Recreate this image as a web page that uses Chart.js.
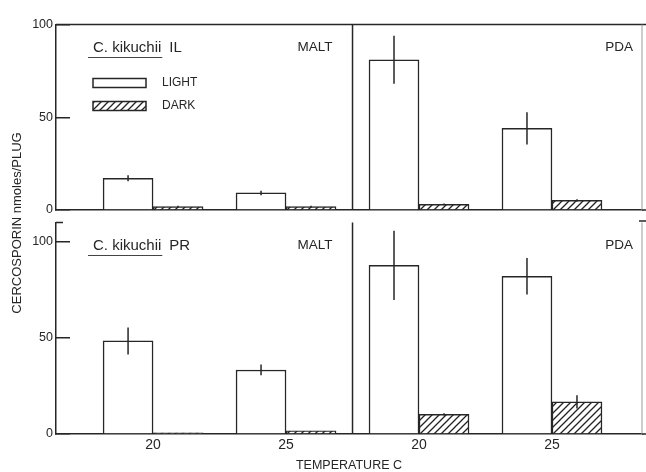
<!DOCTYPE html>
<html><head><meta charset="utf-8">
<script src="https://cdn.jsdelivr.net/npm/chart.js@4.4.0/dist/chart.umd.min.js"></script>
<style>
html,body{margin:0;padding:0;background:#fff;overflow:hidden}
#wrap{position:relative;width:646px;height:472px;background:#fff}
canvas{position:absolute;left:0;top:0}
</style></head><body>
<div id="wrap"><canvas id="topPanel" width="646" height="472"></canvas><canvas id="botPanel" width="646" height="472"></canvas></div>
<script>
// ---- data ----
const temperatures = ['20', '25', '20', '25'];
const media = ['MALT', 'PDA'];
const species = 'C. kikuchii';
const isolates = ['IL', 'PR'];
const treatments = ['LIGHT', 'DARK'];
const ilLight    = [17.1, 9.2, 81, 44];
const ilLightErr = [1.6, 1.2, 13, 8.7];
const ilDark     = [1.8, 1.8, 3.0, 5.2];
const ilDarkErr  = [0.5, 0.5, 0.5, 0.6];
const prLight    = [48.4, 33.3, 87.7, 82];
const prLightErr = [7, 2.8, 18, 9.5];
const prDark     = [0.6, 1.6, 10.2, 16.7];
const prDarkErr  = [0, 0, 0.6, 3.4];
const yTickValues = [0, 50, 100];
const yTitle = 'CERCOSPORIN nmoles/PLUG';
const xTitle = 'TEMPERATURE C';

// ---- style ----
const ink = '#262626';
const FAM = "'Liberation Sans', Arial, Helvetica, sans-serif";
Chart.defaults.font.family = FAM;
Chart.defaults.color = ink;

function hatchPattern() {
  const c = document.createElement('canvas');
  c.width = 7; c.height = 7;
  const g = c.getContext('2d');
  g.fillStyle = '#fff'; g.fillRect(0, 0, 7, 7);
  g.strokeStyle = '#222'; g.lineWidth = 1.3;
  g.beginPath();
  g.moveTo(-1, 8); g.lineTo(8, -1);
  g.moveTo(-1, 1); g.lineTo(1, -1);
  g.moveTo(6, 8); g.lineTo(8, 6);
  g.stroke();
  return g.createPattern(c, 'repeat');
}
const hatch = hatchPattern();

function line(ctx, x1, y1, x2, y2) {
  ctx.beginPath(); ctx.moveTo(x1, y1); ctx.lineTo(x2, y2); ctx.stroke();
}

function decorPlugin(cfg) {
  return {
    id: 'decor',
    afterDatasetsDraw(chart) {
      const {ctx, chartArea: a, scales: {x, y}} = chart;
      ctx.save();
      ctx.strokeStyle = ink;
      ctx.lineWidth = 1.5;
      // error bars
      chart.data.datasets.forEach((ds, di) => {
        const meta = chart.getDatasetMeta(di);
        meta.data.forEach((bar, i) => {
          const v = ds.data[i].y, e = ds.err[i];
          if (!e) return;
          line(ctx, bar.x, y.getPixelForValue(v + e), bar.x, y.getPixelForValue(Math.max(0, v - e)));
        });
      });
      // divider between media
      const dx = x.getPixelForValue((1 + 2) / 2);
      line(ctx, dx, a.top, dx, a.bottom);
      // extend baseline
      line(ctx, a.right, a.bottom, a.right + 4, a.bottom);
      if (cfg.topBorder) {
        line(ctx, a.left, a.top, a.right + 4, a.top);
      } else {
        line(ctx, a.left, a.top, a.left + 7, a.top);
        line(ctx, a.right - 3, a.top - 1.5, a.right + 4, a.top - 1.5);
      }
      ctx.strokeStyle = '#9a9a9a'; ctx.lineWidth = 1;
      line(ctx, a.right, a.top, a.right, a.bottom);

      // text
      ctx.fillStyle = ink;
      ctx.textBaseline = 'middle';
      const ty = a.top + 23;
      ctx.font = '13.5px ' + FAM;
      ctx.textAlign = 'right';
      ctx.fillText(media[0], dx - 20, ty);
      ctx.fillText(media[1], a.right - 9, ty);
      ctx.textAlign = 'left';
      ctx.font = '15px ' + FAM;
      const sx = a.left + 37;
      ctx.fillText(species, sx, ty);
      const sw = ctx.measureText(species).width;
      ctx.fillText(cfg.isolate, sx + sw + 8, ty);
      ctx.strokeStyle = '#444'; ctx.lineWidth = 1;
      line(ctx, sx - 5, a.top + 33, sx + sw + 1, a.top + 33);

      if (cfg.legend) {
        ctx.lineWidth = 1.5; ctx.strokeStyle = ink;
        chart.data.datasets.forEach((ds, di) => {
          const by = a.top + 54 + di * 23;
          ctx.fillStyle = ds.backgroundColor;
          ctx.fillRect(sx, by, 53, 9);
          ctx.strokeRect(sx, by, 53, 9);
          ctx.fillStyle = ink;
          ctx.font = '12px ' + FAM;
          ctx.fillText(ds.label, sx + 69, by + 4.5);
        });
        // y axis title spanning both panels
        ctx.save();
        ctx.translate(17, 223);
        ctx.rotate(-Math.PI / 2);
        ctx.textAlign = 'center';
        ctx.font = '13px ' + FAM;
        ctx.fillText(yTitle, 0, 0);
        ctx.restore();
      }
      ctx.restore();
    }
  };
}

function makePanel(id, light, lightErr, dark, darkErr, yMax, padTop, xAxisHeight, isolate, first) {
  return new Chart(document.getElementById(id), {
    type: 'bar',
    data: {
      datasets: [
        {label: treatments[0], data: light.map((v, i) => ({x: i, y: v})), err: lightErr,
         backgroundColor: '#ffffff', borderColor: ink, borderWidth: 1.5, barThickness: 50},
        {label: treatments[1], data: dark.map((v, i) => ({x: i, y: v})), err: darkErr,
         backgroundColor: hatch, borderColor: ink, borderWidth: 1.5, barThickness: 50}
      ]
    },
    options: {
      responsive: false, animation: false, devicePixelRatio: 1,
      layout: {padding: {top: padTop, right: 4, left: 0, bottom: 0}},
      plugins: {legend: {display: false}, tooltip: {enabled: false}},
      scales: {
        x: {
          type: 'linear', min: -0.73, max: 3.677, offset: false,
          afterBuildTicks: s => { s.ticks = temperatures.map((t, i) => ({value: i})); },
          afterFit: s => { s.height = xAxisHeight; },
          grid: {display: false, drawTicks: false, offset: false},
          border: {display: true, color: ink, width: 1.5},
          ticks: {display: !first, autoSkip: false, maxRotation: 0, padding: 3, color: ink,
                  font: {size: 14}, callback: v => temperatures[v]},
          title: {display: !first, text: xTitle, color: ink,
                  font: {size: 12.5, lineHeight: 1}, padding: {top: 0, bottom: 0}}
        },
        y: {
          min: 0, max: yMax,
          afterBuildTicks: s => { s.ticks = yTickValues.map(v => ({value: v})); },
          afterFit: s => { s.width = 56; },
          grid: {display: true, drawOnChartArea: false, drawTicks: true, tickLength: -14,
                 color: ink, lineWidth: 1.5},
          border: {display: true, color: ink, width: 1.5},
          ticks: {padding: 17, color: ink, font: {size: 12.5}}
        }
      }
    },
    plugins: [decorPlugin({isolate: isolate, legend: first, topBorder: first})]
  });
}

makePanel('topPanel', ilLight, ilLightErr, ilDark, ilDarkErr, 100, 19, 262, isolates[0], true);
makePanel('botPanel', prLight, prLightErr, prDark, prDarkErr, 110, 222.5, 38, isolates[1], false);
</script>
</body></html>
